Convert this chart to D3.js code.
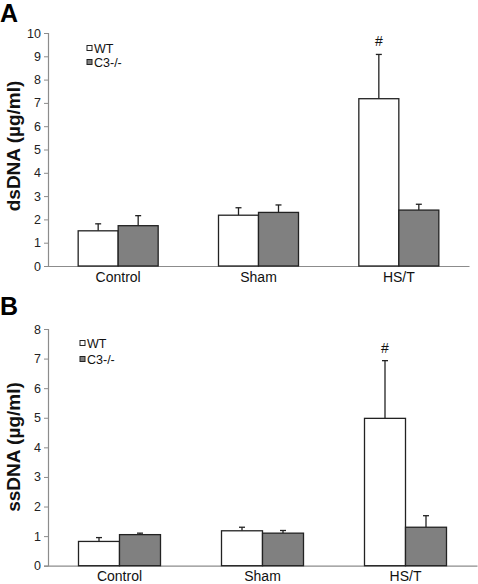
<!DOCTYPE html>
<html><head><meta charset="utf-8">
<script src="https://cdn.jsdelivr.net/npm/d3@7"></script>
<style>body{margin:0;background:#fff}svg{display:block;font-family:"Liberation Sans",Arial,sans-serif}</style>
</head><body>
<svg id="c" width="478" height="584"></svg>
<script>
const categories = ["Control", "Sham", "HS/T"];
const series = ["WT", "C3-/-"];
const dsMean = [[1.51, 1.73], [2.18, 2.30], [7.18, 2.40]];
const dsErr  = [[0.30, 0.43], [0.32, 0.32], [1.90, 0.25]];
const ssMean = [[0.82, 1.05], [1.18, 1.10], [4.98, 1.30]];
const ssErr  = [[0.13, 0.05], [0.12, 0.09], [1.95, 0.39]];
const dsTicks = [0,1,2,3,4,5,6,7,8,9,10];
const ssTicks = [0,1,2,3,4,5,6,7,8];
const sigMark = ["", "", "#"];

const svg = d3.select("#c");
const fills = ["#ffffff", "#808080"];

function panel(o) {
  const g = svg.append("g");
  const x = d3.scaleBand().domain(categories).range([o.x0, o.x1]).paddingInner(0).paddingOuter(0);
  const y = d3.scaleLinear().domain([0, o.max]).range([o.yb, o.yt]);
  const barW = o.barW;
  const ya = d3.axisLeft(y).tickValues(o.ticks).tickSize(4).tickPadding(3).tickFormat(d3.format("d"));
  const yg = g.append("g").attr("transform", `translate(${o.x0},0)`).call(ya);
  yg.select(".domain").attr("stroke", "#8c8c8c").attr("stroke-width", 1.2);
  yg.selectAll(".tick line").attr("stroke", "#8c8c8c");
  yg.selectAll(".tick text").attr("font-size", 12.5).attr("fill", "#222").attr("font-family", "Liberation Sans, Arial, sans-serif");
  const xa = d3.axisBottom(x).tickSize(0).tickPadding(o.xlabPad);
  const xg = g.append("g").attr("transform", `translate(0,${o.yb})`).call(xa);
  xg.select(".domain").attr("stroke", "#8c8c8c").attr("stroke-width", 1.2);
  xg.selectAll(".tick text").attr("font-size", 14).attr("fill", "#111").attr("font-family", "Liberation Sans, Arial, sans-serif");
  categories.forEach((c, i) => {
    const cx = x(c) + x.bandwidth() / 2;
    series.forEach((s, j) => {
      const bx = cx - barW + j * barW;
      const v = o.mean[i][j], e = o.err[i][j];
      const ex = bx + barW / 2;
      g.append("line").attr("x1", ex).attr("x2", ex).attr("y1", y(v)).attr("y2", y(v + e))
        .attr("stroke", "#222").attr("stroke-width", 1.3);
      g.append("line").attr("x1", ex - 3).attr("x2", ex + 3).attr("y1", y(v + e)).attr("y2", y(v + e))
        .attr("stroke", "#222").attr("stroke-width", 1.3);
      g.append("rect").attr("x", bx).attr("y", y(v)).attr("width", barW).attr("height", y(0) - y(v))
        .attr("fill", fills[j]).attr("stroke", "#222").attr("stroke-width", 1.3);
      if (j === 0 && sigMark[i]) {
        g.append("text").attr("x", ex).attr("y", y(v + e) - 8).attr("text-anchor", "middle")
          .attr("font-size", 14).attr("fill", "#111").text(sigMark[i]);
      }
    });
  });
  series.forEach((s, j) => {
    const ly = o.legY + j * o.legDy;
    g.append("rect").attr("x", o.legX).attr("y", ly - 2.5).attr("width", 5).attr("height", 5)
      .attr("fill", fills[j]).attr("stroke", "#222").attr("stroke-width", 1);
    g.append("text").attr("x", o.legX + 7).attr("y", ly + 4.5).attr("font-size", 12.5).attr("fill", "#111").text(s);
  });
  g.append("text").attr("transform", `translate(${o.titleX},${o.titleY}) rotate(-90)`)
    .attr("text-anchor", "middle").attr("font-size", 19).attr("font-weight", "bold").attr("fill", "#111").text(o.title);
  g.append("text").attr("x", 0).attr("y", o.letterY).attr("font-size", 25).attr("font-weight", "bold").attr("fill", "#000").text(o.letter);
}

panel({x0: 48, x1: 469, yt: 33, yb: 266, max: 10, ticks: dsTicks, mean: dsMean, err: dsErr, barW: 40,
  legX: 87, legY: 48, legDy: 14, title: "dsDNA (\u00b5g/ml)", titleX: 20, titleY: 146, letter: "A", letterY: 22, xlabPad: 6});
panel({x0: 48, x1: 477, yt: 329, yb: 565.7, max: 8, ticks: ssTicks, mean: ssMean, err: ssErr, barW: 41,
  legX: 80, legY: 343, legDy: 16, title: "ssDNA (\u00b5g/ml)", titleX: 20, titleY: 447, letter: "B", letterY: 315, xlabPad: 5});
</script>
</body></html>
